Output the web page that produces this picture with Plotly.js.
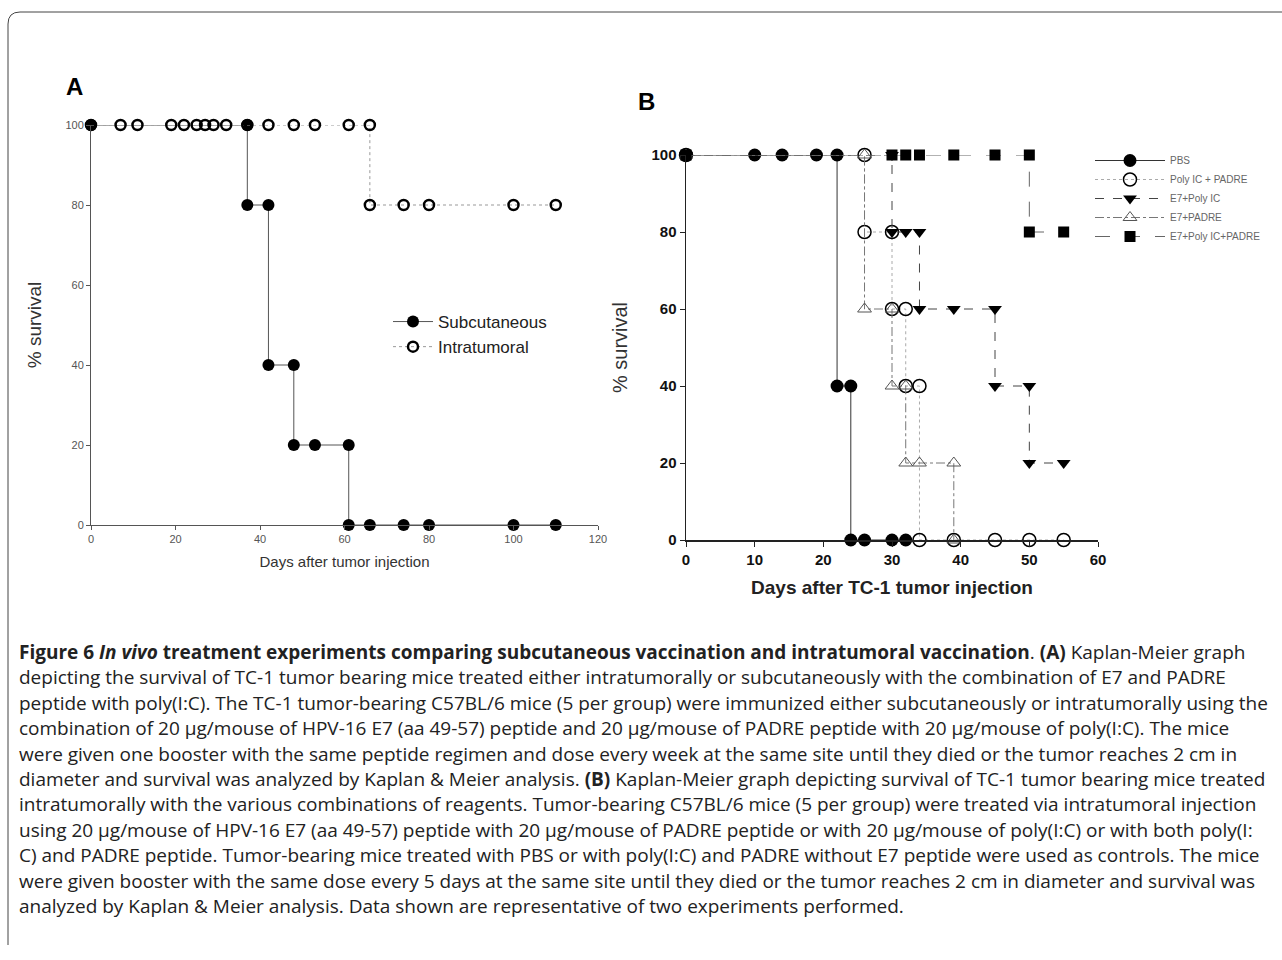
<!DOCTYPE html>
<html>
<head>
<meta charset="utf-8">
<script src="https://cdn.plot.ly/plotly-3.0.1.min.js"></script>
<style>body{margin:0;background:#fff}#fig{width:1282px;height:960px}</style>
</head>
<body>
<div id="fig"></div>
<script>
// Panel A
const subcDays = [0, 37, 37, 42, 42, 48, 48, 53, 61, 61, 66, 74, 80, 100, 110];
const subcSurv = [100, 100, 80, 80, 40, 40, 20, 20, 20, 0, 0, 0, 0, 0, 0];
const intraDays = [0, 7, 11, 19, 22, 25, 27, 29, 32, 37, 42, 48, 53, 61, 66, 66, 74, 80, 100, 110];
const intraSurv = [100, 100, 100, 100, 100, 100, 100, 100, 100, 100, 100, 100, 100, 100, 100, 80, 80, 80, 80, 80];

// Panel B
const pbsDays = [0, 10, 14, 19, 22, 22, 24, 24, 26, 30, 32];
const pbsSurv = [100, 100, 100, 100, 100, 40, 40, 0, 0, 0, 0];
const polyPadreDays = [0, 26, 26, 30, 30, 32, 32, 34, 34, 39, 45, 50, 55];
const polyPadreSurv = [100, 100, 80, 80, 60, 60, 40, 40, 0, 0, 0, 0, 0];
const e7PolyDays = [0, 30, 30, 32, 34, 34, 39, 45, 45, 50, 50, 55];
const e7PolySurv = [100, 100, 80, 80, 80, 60, 60, 60, 40, 40, 20, 20];
const e7PadreDays = [0, 26, 26, 30, 30, 32, 32, 34, 39, 39];
const e7PadreSurv = [100, 100, 60, 60, 40, 40, 20, 20, 20, 0];
const e7AllDays = [0, 30, 32, 34, 39, 45, 50, 50, 55];
const e7AllSurv = [100, 100, 100, 100, 100, 100, 100, 80, 80];

const captionLines = [
  "<b>Figure 6</b> <b><i>In vivo</i> treatment experiments comparing subcutaneous vaccination and intratumoral vaccination</b>. <b>(A)</b> Kaplan-Meier graph",
  "depicting the survival of TC-1 tumor bearing mice treated either intratumorally or subcutaneously with the combination of E7 and PADRE",
  "peptide with poly(I:C). The TC-1 tumor-bearing C57BL/6 mice (5 per group) were immunized either subcutaneously or intratumorally using the",
  "combination of 20 μg/mouse of HPV-16 E7 (aa 49-57) peptide and 20 μg/mouse of PADRE peptide with 20 μg/mouse of poly(I:C). The mice",
  "were given one booster with the same peptide regimen and dose every week at the same site until they died or the tumor reaches 2 cm in",
  "diameter and survival was analyzed by Kaplan &amp; Meier analysis. <b>(B)</b> Kaplan-Meier graph depicting survival of TC-1 tumor bearing mice treated",
  "intratumorally with the various combinations of reagents. Tumor-bearing C57BL/6 mice (5 per group) were treated via intratumoral injection",
  "using 20 μg/mouse of HPV-16 E7 (aa 49-57) peptide with 20 μg/mouse of PADRE peptide or with 20 μg/mouse of poly(I:C) or with both poly(I:",
  "C) and PADRE peptide. Tumor-bearing mice treated with PBS or with poly(I:C) and PADRE without E7 peptide were used as controls. The mice",
  "were given booster with the same dose every 5 days at the same site until they died or the tumor reaches 2 cm in diameter and survival was",
  "analyzed by Kaplan &amp; Meier analysis. Data shown are representative of two experiments performed."
];

const traces = [
  {x: subcDays, y: subcSurv, name: "Subcutaneous", xaxis: "x", yaxis: "y", legend: "legend",
   mode: "lines+markers", line: {color: "#555", width: 1},
   marker: {symbol: "circle", size: 12, color: "#000"}, cliponaxis: false},
  {x: intraDays, y: intraSurv, name: "Intratumoral", xaxis: "x", yaxis: "y", legend: "legend",
   mode: "lines+markers", line: {color: "#999", width: 1, dash: "dot"},
   marker: {symbol: "circle-open", size: 10, color: "#000", line: {width: 2.5}}, cliponaxis: false},
  {x: pbsDays, y: pbsSurv, name: "PBS", xaxis: "x2", yaxis: "y2", legend: "legend2",
   mode: "lines+markers", line: {color: "#333", width: 1},
   marker: {symbol: "circle", size: 13, color: "#000"}, cliponaxis: false},
  {x: polyPadreDays, y: polyPadreSurv, name: "Poly IC + PADRE", xaxis: "x2", yaxis: "y2", legend: "legend2",
   mode: "lines+markers", line: {color: "#aaa", width: 1, dash: "dot"},
   marker: {symbol: "circle-open", size: 13, color: "#000", line: {width: 1.5}}, cliponaxis: false},
  {x: e7PolyDays, y: e7PolySurv, name: "E7+Poly IC", xaxis: "x2", yaxis: "y2", legend: "legend2",
   mode: "lines+markers", line: {color: "#444", width: 1, dash: "dash"},
   marker: {symbol: "triangle-down", size: 12, color: "#000"}, cliponaxis: false},
  {x: e7PadreDays, y: e7PadreSurv, name: "E7+PADRE", xaxis: "x2", yaxis: "y2", legend: "legend2",
   mode: "lines+markers", line: {color: "#777", width: 1, dash: "dashdot"},
   marker: {symbol: "triangle-up-open", size: 12, color: "#555", line: {width: 1}}, cliponaxis: false},
  {x: e7AllDays, y: e7AllSurv, name: "E7+Poly IC+PADRE", xaxis: "x2", yaxis: "y2", legend: "legend2",
   mode: "lines+markers", line: {color: "#666", width: 1, dash: "longdash"},
   marker: {symbol: "square", size: 11, color: "#000"}, cliponaxis: false}
];

const W = 1282, H = 960;
const px = v => v / W, py = v => 1 - v / H;

const annotations = [
  {text: "<b>A</b>", x: px(64), y: py(86), xref: "paper", yref: "paper", xanchor: "left", yanchor: "middle",
   showarrow: false, font: {size: 24, color: "#000"}},
  {text: "<b>B</b>", x: px(636), y: py(102), xref: "paper", yref: "paper", xanchor: "left", yanchor: "middle",
   showarrow: false, font: {size: 24, color: "#000"}}
];
captionLines.forEach((t, i) => annotations.push({
  text: t, x: px(17), y: py(652 + i * 25.4), xref: "paper", yref: "paper",
  xanchor: "left", yanchor: "middle", showarrow: false, align: "left",
  font: {family: "Open Sans, sans-serif", size: 19, color: "#222"}
}));

const layout = {
  width: W, height: H,
  margin: {l: 0, r: 0, t: 0, b: 0},
  paper_bgcolor: "#fff", plot_bgcolor: "rgba(0,0,0,0)",
  font: {family: "Liberation Sans, Arial, sans-serif", color: "#333"},
  xaxis: {domain: [px(91), px(598)], range: [0, 120], dtick: 20, showgrid: false, zeroline: false,
    showline: true, linecolor: "#555", ticks: "outside", ticklen: 4, tickcolor: "#555",
    tickfont: {size: 11, color: "#555"}, anchor: "y",
    title: {text: "Days after tumor injection", font: {size: 15, color: "#333"}, standoff: 12}},
  yaxis: {domain: [py(525), py(125)], range: [0, 100], dtick: 20, showgrid: false, zeroline: false,
    showline: true, linecolor: "#555", ticks: "outside", ticklen: 4, tickcolor: "#555",
    tickfont: {size: 11, color: "#555"}, anchor: "x",
    title: {text: "% survival", font: {size: 19, color: "#333"}, standoff: 18}},
  xaxis2: {domain: [px(686), px(1098)], range: [0, 60], dtick: 10, showgrid: false, zeroline: false,
    showline: true, linecolor: "#222", linewidth: 1.5, ticks: "outside", ticklen: 5, tickcolor: "#222",
    tickfont: {size: 15, color: "#111", family: "Liberation Sans Narrow, Arial, sans-serif", weight: "bold"}, anchor: "y2",
    title: {text: "<b>Days after TC-1 tumor injection</b>", font: {size: 19, color: "#222"}, standoff: 14}},
  yaxis2: {domain: [py(540), py(155)], range: [0, 100], dtick: 20, showgrid: false, zeroline: false,
    showline: true, linecolor: "#222", linewidth: 1.5, ticks: "outside", ticklen: 5, tickcolor: "#222",
    tickfont: {size: 15, color: "#111", family: "Liberation Sans Narrow, Arial, sans-serif", weight: "bold"}, anchor: "x2",
    title: {text: "% survival", font: {size: 20, color: "#333"}, standoff: 18}},
  legend: {x: px(388), y: py(304), xanchor: "left", yanchor: "top", bgcolor: "rgba(0,0,0,0)",
    font: {size: 17, color: "#222"}, tracegroupgap: 0, itemwidth: 40},
  legend2: {x: px(1090), y: py(146), xanchor: "left", yanchor: "top", bgcolor: "rgba(0,0,0,0)",
    font: {size: 10, color: "#666"}, tracegroupgap: 0, itemwidth: 70},
  annotations: annotations,
  shapes: [
    {type: "path", xref: "paper", yref: "paper", line: {color: "#444", width: 1},
     path: `M ${px(8)} ${py(945)} L ${px(8)} ${py(24)} Q ${px(8)} ${py(12)} ${px(20)} ${py(12)} L ${px(1282)} ${py(12)}`}
  ]
};

Plotly.newPlot("fig", traces, layout, {displayModeBar: false, staticPlot: true});
</script>
</body>
</html>
